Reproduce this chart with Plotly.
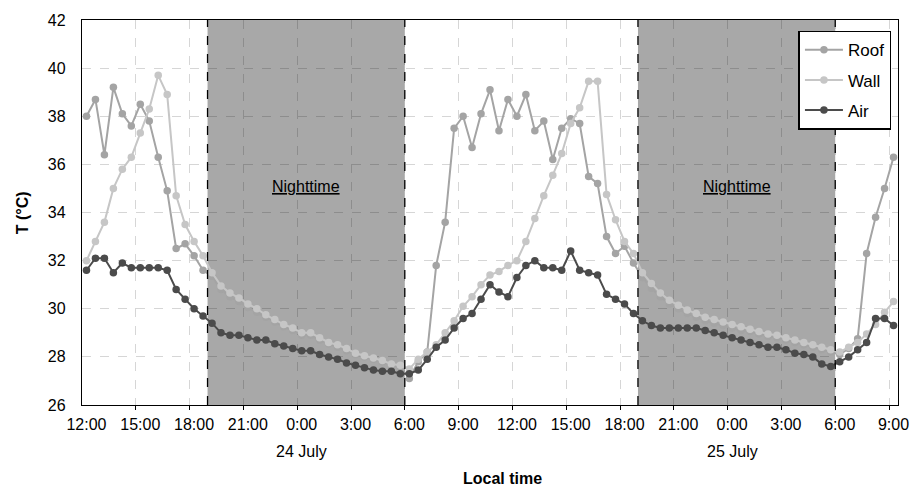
import plotly.graph_objects as go

# Half-hourly time labels from 12:00 (23 July) to 9:00 (25 July)
times = []
for i in range(91):
    m = 12 * 60 + 30 * i
    h = (m // 60) % 24
    times.append(f"{h}:{m % 60:02d}")

roof = [38.0, 38.7, 36.4, 39.2, 38.1, 37.6, 38.5, 37.8, 36.3, 34.9,
        32.5, 32.7, 32.2, 31.6, 31.35, 30.8, 30.5, 30.3, 30.05, 29.85,
        29.65, 29.45, 29.25, 29.1, 28.9, 28.9, 28.7, 28.55, 28.4, 28.25,
        28.1, 28.0, 27.9, 27.8, 27.65, 27.6, 27.1, 27.8, 28.2, 31.8,
        33.6, 37.5, 38.0, 36.7, 38.1, 39.1, 37.4, 38.7, 38.0, 38.9,
        37.4, 37.8, 36.2, 37.5, 37.9, 37.7, 35.5, 35.2, 33.0, 32.3,
        32.6, 31.9, 31.3, 30.85, 30.5, 30.2, 30.0, 29.8, 29.65, 29.5,
        29.4, 29.3, 29.2, 29.1, 29.05, 28.95, 28.85, 28.8, 28.7, 28.6,
        28.5, 28.4, 28.3, 28.2, 28.1, 28.35, 28.75, 32.3, 33.8, 35.0,
        36.3]

wall = [32.0, 32.8, 33.6, 35.0, 35.8, 36.3, 37.3, 38.3, 39.7, 38.9,
        34.7, 33.5, 32.8, 32.2, 31.5, 30.95, 30.65, 30.45, 30.2, 30.0,
        29.75, 29.55, 29.35, 29.2, 29.0, 29.0, 28.8, 28.6, 28.5, 28.35,
        28.15, 28.05, 27.95, 27.85, 27.7, 27.65, 27.5, 27.9, 28.2, 28.5,
        29.0, 29.5, 30.1, 30.5, 31.0, 31.4, 31.55, 31.8, 32.0, 32.8,
        33.75, 34.7, 35.55, 36.45, 37.7, 38.35, 39.45, 39.45, 34.75, 33.7,
        32.8, 32.3, 31.5, 31.05, 30.65, 30.35, 30.15, 29.95, 29.8, 29.65,
        29.55, 29.45, 29.35, 29.25, 29.15, 29.05, 28.95, 28.9, 28.8, 28.7,
        28.6, 28.5, 28.4, 28.3, 28.2, 28.4, 28.6, 28.95, 29.35, 29.85,
        30.3]

air = [31.6, 32.1, 32.1, 31.5, 31.9, 31.7, 31.7, 31.7, 31.7, 31.6,
       30.8, 30.4, 30.0, 29.7, 29.4, 29.0, 28.9, 28.9, 28.8, 28.7,
       28.7, 28.55, 28.45, 28.35, 28.25, 28.25, 28.1, 28.0, 27.9, 27.75,
       27.65, 27.55, 27.45, 27.4, 27.4, 27.3, 27.3, 27.45, 27.9, 28.4,
       28.7, 29.2, 29.6, 29.8, 30.4, 31.0, 30.7, 30.5, 31.3, 31.8,
       32.0, 31.7, 31.7, 31.6, 32.4, 31.6, 31.5, 31.4, 30.6, 30.4,
       30.2, 29.8, 29.5, 29.3, 29.2, 29.2, 29.2, 29.2, 29.2, 29.1,
       29.0, 28.9, 28.8, 28.7, 28.6, 28.5, 28.4, 28.4, 28.3, 28.15,
       28.1, 28.0, 27.7, 27.6, 27.8, 28.0, 28.3, 28.6, 29.6, 29.6,
       29.3]

# Nighttime periods (first and last half-hour slot index)
night_start = [14, 62]   # 19:00
night_end = [35, 83]     # 5:30
date_labels = ["24 July", "25 July"]
date_pos = [24, 72]      # 0:00 slots

x = list(range(len(times)))
tick_idx = list(range(0, len(times), 6))
tick_text = [times[i] for i in tick_idx]

FONT = "Liberation Sans, Arial, sans-serif"

fig = go.Figure()
series = [("Roof", roof, "#a4a4a4"), ("Wall", wall, "#c6c6c6"), ("Air", air, "#4b4b4b")]
for name, ys, col in series:
    fig.add_trace(go.Scatter(
        x=x, y=ys, name=name, mode="lines+markers", legendgroup=name,
        line=dict(color=col, width=2),
        marker=dict(color=col, size=7.5),
    ))

shapes = []
annotations = []
for s, e in zip(night_start, night_end):
    shapes.append(dict(type="rect", xref="x", yref="y", x0=s - 0.5, x1=e + 0.5, y0=26, y1=42,
                       fillcolor="#a8a8a8", line=dict(width=0), layer="below"))
    for xv in (s - 0.5, e + 0.5):
        shapes.append(dict(type="line", xref="x", yref="y", x0=xv, x1=xv, y0=26, y1=42,
                           line=dict(color="black", width=1.3, dash="dash"), layer="above"))
    annotations.append(dict(x=(s + e) / 2, y=35.1, xref="x", yref="y", text="<u>Nighttime</u>",
                            showarrow=False, font=dict(size=16, color="black", family=FONT)))

for lbl, p in zip(date_labels, date_pos):
    annotations.append(dict(x=p, y=-0.121, xref="x", yref="paper", text=lbl, showarrow=False,
                            yanchor="middle", font=dict(size=16, color="black", family=FONT)))
annotations.append(dict(x=0.515, y=-0.19, xref="paper", yref="paper", text="<b>Local time</b>",
                        showarrow=False, yanchor="middle", font=dict(size=16, color="black", family=FONT)))
annotations.append(dict(x=-0.0727, y=0.5, xref="paper", yref="paper", text="<b>T (°C)</b>",
                        textangle=-90, showarrow=False, xanchor="center", yanchor="middle",
                        font=dict(size=16, color="black", family=FONT)))

grid_col = "rgba(0,0,0,0.16)"
fig.update_layout(
    width=921, height=489,
    margin=dict(l=82, r=14, t=17, b=84),
    paper_bgcolor="white", plot_bgcolor="white",
    font=dict(family=FONT, size=16, color="black"),
    shapes=shapes, annotations=annotations,
    showlegend=True,
    legend=dict(x=0.878, y=0.972, xanchor="left", yanchor="top",
                bgcolor="white", bordercolor="black", borderwidth=1.5,
                font=dict(size=17, family=FONT), tracegroupgap=5, itemwidth=38),
    xaxis=dict(range=[-0.5, len(times) - 0.5], tickvals=tick_idx, ticktext=tick_text,
               showgrid=False, ticks="outside", ticklen=5, tickcolor="rgba(0,0,0,0)",
               zeroline=False,
               showline=True, linecolor="black", linewidth=1.3, mirror=True,
               tickfont=dict(size=16),
               minor=dict(tickvals=[i - 0.5 for i in tick_idx[1:]], showgrid=True,
                          gridcolor=grid_col, griddash="dash", gridwidth=1,
                          ticks="outside", ticklen=4, tickcolor="black")),
    yaxis=dict(range=[26, 42], dtick=2, tick0=26, showgrid=True, gridcolor=grid_col,
               griddash="dash", gridwidth=1, zeroline=False,
               ticks="outside", ticklen=12, tickcolor="rgba(0,0,0,0)",
               showline=True, linecolor="black", linewidth=1.3, mirror=True,
               tickfont=dict(size=16)),
)

fig.write_html("out.html")
